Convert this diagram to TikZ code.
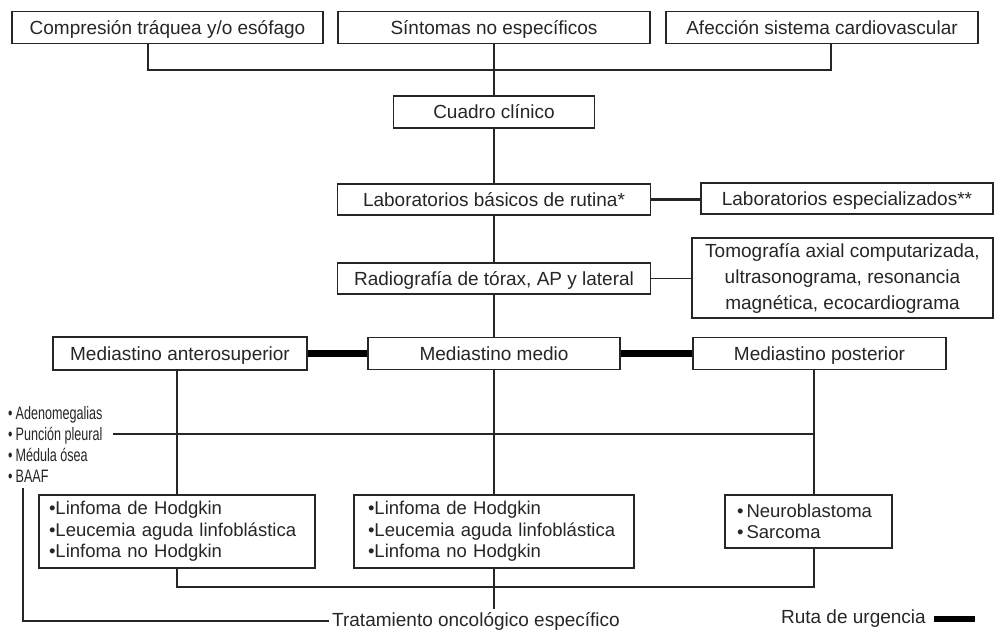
\documentclass[tikz,border=0pt]{standalone}
\usepackage{fontspec}
\setmainfont{Liberation Sans}
\newfontfamily\narrowf{Liberation Sans}[FakeStretch=0.7]
\begin{document}
\begin{tikzpicture}[x=1pt,y=-1pt,
  box/.style={draw=black!85, line width=1.5pt, fill=white, inner sep=0pt,
              font=\fontsize{19}{23}\selectfont, text=black!85},
  one/.style={box, text height=16pt, text depth=3pt},
  ln/.style={draw=black!85, line width=1.6pt},
  urg/.style={draw=black, line width=6.5pt},
  listbox/.style={box, align=left, font=\fontsize{18.5}{21.5}\selectfont},
  plain/.style={inner sep=3pt, font=\fontsize{19}{23}\selectfont, text=black!85},
]
\useasboundingbox (0,0) rectangle (994,633);

% top row
\node[one, minimum width=311pt, minimum height=32pt] (c1) at (167.5,27.5) {Compresión tráquea y/o esófago};
\node[one, minimum width=312pt, minimum height=32pt] (c2) at (494,27.5) {Síntomas no específicos};
\node[one, minimum width=312pt, minimum height=32pt] (c3) at (822,27.5) {Afección sistema cardiovascular};

% middle column
\node[one, minimum width=201pt, minimum height=32pt] (cuadro) at (494,112) {Cuadro clínico};
\node[one, minimum width=313pt, minimum height=31pt] (labb) at (494,199.5) {Laboratorios básicos de rutina*};
\node[one, minimum width=292pt, minimum height=31pt] (labe) at (847,198.5) {Laboratorios especializados**};
\node[one, minimum width=313pt, minimum height=31pt] (radio) at (494,278.5) {Radiografía de tórax, AP y lateral};
\node[box, minimum width=301pt, minimum height=80pt, align=center,
      font=\fontsize{19}{26}\selectfont] (tomo) at (842.5,278)
      {Tomografía axial computarizada,\\ultrasonograma, resonancia\\magnética, ecocardiograma};

% mediastino
\node[one, minimum width=254pt, minimum height=33pt] (ma) at (180,353.5) {Mediastino anterosuperior};
\node[one, minimum width=252pt, minimum height=32pt] (mm) at (494,353.5) {Mediastino medio};
\node[one, minimum width=253pt, minimum height=32pt] (mp) at (819.5,353.5) {Mediastino posterior};

% lower boxes
\node[listbox, minimum width=276pt, minimum height=73pt, text width=256pt] (la) at (177,531.5)
  {•Linfoma de Hodgkin\\•Leucemia aguda linfoblástica\\•Linfoma no Hodgkin};
\node[listbox, minimum width=280pt, minimum height=73pt, text width=252pt] (lm) at (494,531.5)
  {•Linfoma de Hodgkin\\•Leucemia aguda linfoblástica\\•Linfoma no Hodgkin};
\node[listbox, minimum width=167pt, minimum height=53pt, text width=143pt] (lp) at (808.5,521.5)
  {•\,Neuroblastoma\\•\,Sarcoma};

% left list
\node[anchor=west, align=left, inner sep=0pt, text=black!85,
      font=\narrowf\fontsize{18}{21}\selectfont] (lst) at (8,444)
  {•\,Adenomegalias\\•\,Punción pleural\\•\,Médula ósea\\•\,BAAF};

% bottom texts
\node[plain] (trat) at (476,621) {Tratamiento oncológico específico};
\node[plain, anchor=east] (ruta) at (929,619) {Ruta de urgencia};
\coordinate (rb1) at (934,619);
\coordinate (rb2) at (975,619);

% helper coordinates
\coordinate (j1) at (148,70);
\coordinate (j2) at (831,70);
\coordinate (pvx) at (814,0);
\coordinate (h1) at (113,434);
\coordinate (hb) at (0,587);
\coordinate (lv) at (23,488);

% connectors
\draw[ln] (c1.south -| j1) -- (j1) -- (j2) -- (c3.south -| j2);
\draw[ln] (c2.south) -- (cuadro.north);
\draw[ln] (cuadro.south) -- (labb.north);
\draw[ln] (labb.south) -- (radio.north);
\draw[ln] (radio.south) -- (mm.north);
\draw[ln, line width=2.4pt] (labb.east) -- (labb.east -| labe.west);
\draw[ln] (radio.east) -- (radio.east -| tomo.west);
\draw[urg] (ma.east) -- (ma.east -| mm.west);
\draw[urg] (mm.east) -- (mm.east -| mp.west);

\draw[ln] (ma.south -| la.north) -- (la.north);
\draw[ln] (mm.south) -- (lm.north);
\draw[ln] (mp.south -| pvx) -- (lp.north -| pvx);
\draw[ln] (h1) -- (h1 -| pvx);

\draw[ln] (la.south) -- (la.south |- hb) -- (hb -| pvx) -- (lp.south -| pvx);
\draw[ln] (lm.south) -- (lm.south |- trat.north);
\draw[ln] (lv) -- (lv |- trat.west) -- (trat.west);

\draw[urg, line width=6pt] (rb1) -- (rb2);
\end{tikzpicture}
\end{document}
